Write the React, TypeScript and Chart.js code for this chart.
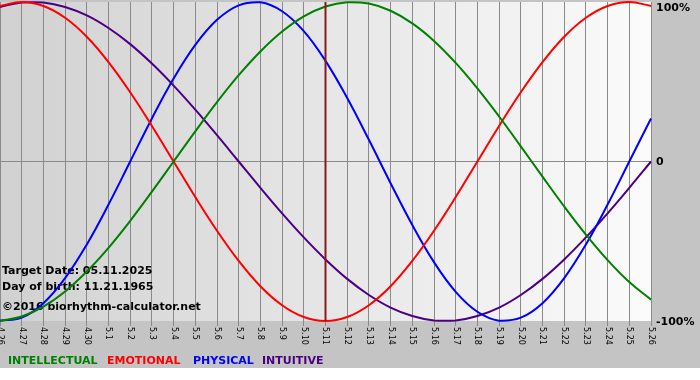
import React, { useEffect, useRef } from "react";
import { Chart, registerables } from "chart.js";

Chart.register(...registerables);

const DAYS = [
  "4.26", "4.27", "4.28", "4.29", "4.30",
  "5.1", "5.2", "5.3", "5.4", "5.5", "5.6", "5.7", "5.8", "5.9", "5.10",
  "5.11", "5.12", "5.13", "5.14", "5.15", "5.16", "5.17", "5.18", "5.19", "5.20",
  "5.21", "5.22", "5.23", "5.24", "5.25", "5.26",
];

const INTELLECTUAL = [-99.9, -97.2, -91.0, -81.5, -69.0, -54.1, -37.2, -18.9, 0, 18.9, 37.2, 54.1, 69.0, 81.5, 91.0, 97.2, 99.9, 99.0, 94.5, 86.6, 75.6, 61.8, 45.8, 28.2, 9.5, -9.5, -28.2, -45.8, -61.8, -75.6, -86.6];
const EMOTIONAL = [97.5, 100, 97.5, 90.1, 78.2, 62.3, 43.4, 22.3, 0, -22.3, -43.4, -62.3, -78.2, -90.1, -97.5, -100, -97.5, -90.1, -78.2, -62.3, -43.4, -22.3, 0, 22.3, 43.4, 62.3, 78.2, 90.1, 97.5, 100, 97.5];
const PHYSICAL = [-99.8, -97.9, -88.8, -73.1, -52.0, -27.0, 0, 27.0, 52.0, 73.1, 88.8, 97.9, 99.8, 94.2, 81.7, 63.1, 39.8, 13.6, -13.6, -39.8, -63.1, -81.7, -94.2, -99.8, -97.9, -88.8, -73.1, -52.0, -27.0, 0, 27.0];
const INTUITIVE = [96.9, 99.7, 99.7, 96.9, 91.6, 83.7, 73.6, 61.4, 47.6, 32.5, 16.5, 0, -16.5, -32.5, -47.6, -61.4, -73.6, -83.7, -91.6, -96.9, -99.7, -99.7, -96.9, -91.6, -83.7, -73.6, -61.4, -47.6, -32.5, -16.5, 0];

const SERIES_NAMES = ["INTELLECTUAL", "EMOTIONAL", "PHYSICAL", "INTUITIVE"];
const Y_TICKS = [-100, 0, 100];
const Y_TICK_LABELS = ["-100%", "0", "100%"];
const TARGET_DAY = "5.11";
const INFO_LINES = ["Target Date: 05.11.2025", "Day of birth: 11.21.1965", "©2016 biorhythm-calculator.net"];

// styling / layout
const COLORS = ["#008000", "#ff0000", "#0000ff", "#4b0082"];
const LEGEND_X = [8, 107, 193, 262];
const INFO_Y = [271, 287, 307];
const OUTER_BG = "#c4c4c4";
const GRID = "#8a8a8a";
const BOLD = "bold 11px 'DejaVu Sans'";

const decorPlugin = {
  id: "decor",
  beforeDraw(chart: any) {
    const { ctx, chartArea: a, width } = chart;
    ctx.save();
    ctx.fillStyle = "#ffffff";
    ctx.fillRect(0, 0, width, chart.height);
    ctx.fillStyle = OUTER_BG;
    ctx.fillRect(0, 0, width, 368);
    const g = ctx.createLinearGradient(a.left, 0, a.right, 0);
    g.addColorStop(0, "#d1d1d1");
    g.addColorStop(1, "#fbfbfb");
    ctx.fillStyle = g;
    ctx.fillRect(a.left, a.top, a.right - a.left, a.bottom - a.top);
    ctx.restore();
  },
  beforeDatasetsDraw(chart: any) {
    const { ctx } = chart;
    ctx.save();
    ctx.font = BOLD;
    ctx.fillStyle = "#000";
    ctx.textAlign = "left";
    ctx.textBaseline = "middle";
    INFO_LINES.forEach((t, i) => ctx.fillText(t, 2, INFO_Y[i]));
    ctx.restore();
  },
  afterDatasetsDraw(chart: any) {
    const { ctx, chartArea: a } = chart;
    const xs = chart.scales.x;
    const x = xs.getPixelForValue(DAYS.indexOf(TARGET_DAY));
    ctx.save();
    ctx.strokeStyle = "#8b1a1a";
    ctx.lineWidth = 2;
    ctx.beginPath();
    ctx.moveTo(x, a.top);
    ctx.lineTo(x, a.bottom);
    ctx.stroke();
    ctx.restore();
  },
  afterDraw(chart: any) {
    const { ctx, chartArea: a } = chart;
    const xs = chart.scales.x;
    const ys = chart.scales.y;
    ctx.save();
    ctx.font = "8px 'DejaVu Sans'";
    ctx.fillStyle = "#000";
    ctx.textAlign = "left";
    ctx.textBaseline = "middle";
    DAYS.forEach((d, i) => {
      const x = xs.getPixelForValue(i);
      ctx.save();
      ctx.translate(x, a.bottom + 6);
      ctx.rotate(Math.PI / 2);
      ctx.fillText(d, 0, 0);
      ctx.restore();
    });
    ctx.font = BOLD;
    Y_TICKS.forEach((v, i) => {
      const y = Math.max(ys.getPixelForValue(v), 7);
      ctx.fillText(Y_TICK_LABELS[i], a.right + 5, y + 1);
    });
    chart.data.datasets.forEach((ds: any, i: number) => {
      ctx.fillStyle = ds.borderColor;
      ctx.fillText(ds.label, LEGEND_X[i], 361);
    });
    ctx.restore();
  },
};

export default function App() {
  const ref = useRef<HTMLCanvasElement | null>(null);
  useEffect(() => {
    document.body.style.margin = "0";
    const series = [INTELLECTUAL, EMOTIONAL, PHYSICAL, INTUITIVE];
    const chart = new Chart(ref.current as HTMLCanvasElement, {
      type: "line",
      data: {
        labels: DAYS,
        datasets: series.map((s, i) => ({
          label: SERIES_NAMES[i],
          data: s,
          borderColor: COLORS[i],
          backgroundColor: COLORS[i],
          borderWidth: 2,
          pointRadius: 0,
          tension: 0.4,
          fill: false,
          clip: 3,
        })),
      },
      options: {
        animation: false,
        responsive: false,
        events: [],
        layout: { padding: { top: 2, left: 0, right: 0, bottom: 0 } },
        plugins: { legend: { display: false }, tooltip: { enabled: false } },
        scales: {
          x: {
            type: "category",
            offset: false,
            border: { display: false },
            grid: { color: GRID, lineWidth: 1, drawTicks: true, tickLength: 5, tickColor: GRID },
            ticks: { display: false, autoSkip: false },
            afterFit: (s: any) => {
              s.height = 59;
              s.paddingLeft = 0;
              s.paddingRight = 0;
            },
          },
          y: {
            position: "right",
            min: -100,
            max: 100,
            afterBuildTicks: (s: any) => { s.ticks = Y_TICKS.map((v) => ({ value: v })); },
            border: { display: false },
            grid: {
              drawTicks: false,
              color: (c: any) => (c.tick && c.tick.value === 0 ? GRID : "rgba(0,0,0,0)"),
            },
            ticks: { display: false },
            afterFit: (s: any) => {
              s.width = 49;
              s.paddingTop = 0;
              s.paddingBottom = 0;
            },
          },
        },
      },
      plugins: [decorPlugin],
    } as any);
    return () => chart.destroy();
  }, []);
  return (
    <div style={{ width: 700, height: 380 }}>
      <canvas ref={ref} width={700} height={380} style={{ display: "block" }} />
    </div>
  );
}
